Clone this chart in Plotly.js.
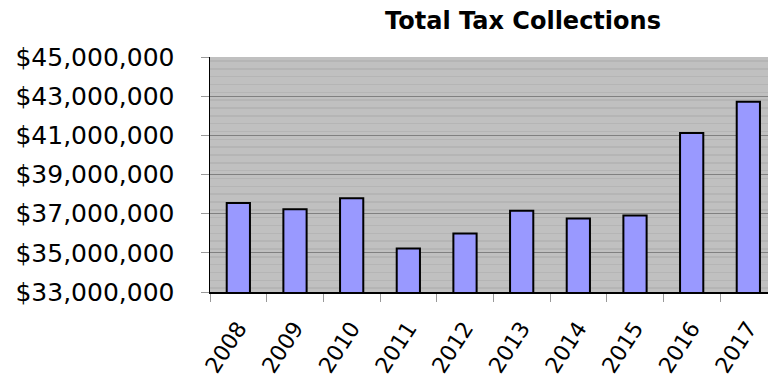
<!DOCTYPE html>
<html>
<head>
<meta charset="utf-8">
<script src="https://cdn.plot.ly/plotly-3.0.1.min.js"></script>
<style>html,body{margin:0;padding:0;background:#fff;}#chart{width:768px;height:383px;}</style>
</head>
<body>
<div id="chart"></div>
<script>
const years = ['2008','2009','2010','2011','2012','2013','2014','2015','2016','2017'];
const collections = [37540000, 37230000, 37790000, 35220000, 35990000, 37150000, 36750000, 36910000, 41120000, 42710000];
const yTickValues = [33000000, 35000000, 37000000, 39000000, 41000000, 43000000, 45000000];

const trace = {
  type: 'bar',
  x: years,
  y: collections,
  width: 0.41,
  marker: {color: '#9999ff', line: {color: '#000000', width: 2}},
  hoverinfo: 'skip'
};

const layout = {
  width: 768,
  height: 383,
  margin: {l: 210, r: 0, t: 57, b: 91, pad: 0},
  paper_bgcolor: '#ffffff',
  plot_bgcolor: '#c0c0c0',
  showlegend: false,
  font: {family: 'DejaVu Sans, Arial, sans-serif', color: '#000000', size: 24},
  title: {
    text: '<b>Total Tax Collections</b>',
    font: {family: 'DejaVu Sans, Arial, sans-serif', size: 24, color: '#000000'},
    x: 0.681, xref: 'container', xanchor: 'center',
    y: 0.945, yref: 'container', yanchor: 'middle'
  },
  xaxis: {
    type: 'category',
    range: [-0.5, 9.347],
    showline: true, linecolor: '#000000', linewidth: 1.5,
    ticks: 'outside', tickson: 'boundaries', ticklen: 8, tickcolor: '#999999', tickwidth: 1,
    tickangle: -57,
    ticklabelstandoff: 13,
    tickfont: {size: 22, family: 'DejaVu Sans, Arial, sans-serif'},
    showgrid: false, zeroline: false, fixedrange: true
  },
  yaxis: {
    range: [33000000, 45000000],
    tickvals: yTickValues,
    tickformat: '$,.0f',
    showline: true, linecolor: '#000000', linewidth: 1.5,
    ticks: 'outside', ticklen: 8, tickcolor: '#999999', tickwidth: 1,
    ticklabelstandoff: 21,
    tickfont: {size: 25, family: 'DejaVu Sans, Arial, sans-serif'},
    showgrid: true, gridcolor: '#808080', gridwidth: 1,
    minor: {dtick: 400000, showgrid: true, gridcolor: '#b5b5b5', gridwidth: 1.5, ticks: ''},
    zeroline: false, fixedrange: true
  }
};

Plotly.newPlot('chart', [trace], layout, {displayModeBar: false, staticPlot: true});
</script>
</body>
</html>
